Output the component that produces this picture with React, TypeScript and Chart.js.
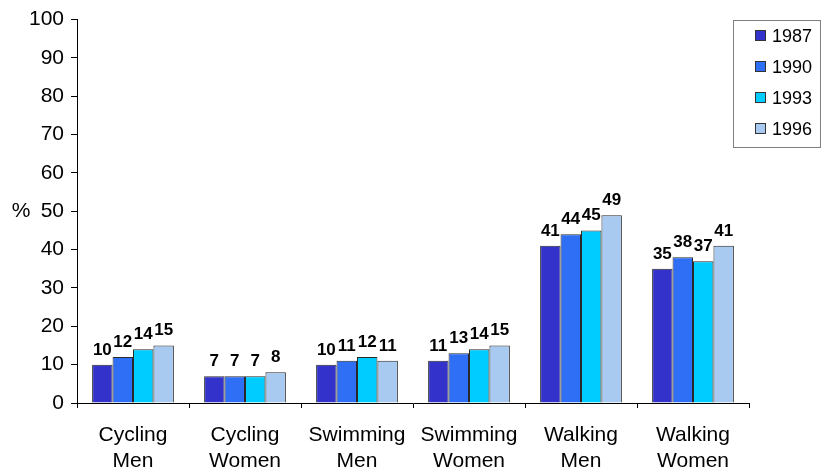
import React, { useEffect, useRef } from "react";
import { Chart, registerables } from "chart.js";

Chart.register(...registerables);

const categories: string[][] = [
  ["Cycling", "Men"],
  ["Cycling", "Women"],
  ["Swimming", "Men"],
  ["Swimming", "Women"],
  ["Walking", "Men"],
  ["Walking", "Women"],
];
const seriesNames = ["1987", "1990", "1993", "1996"];
const values1987 = [10, 7, 10, 11, 41, 35];
const values1990 = [12, 7, 11, 13, 44, 38];
const values1993 = [14, 7, 12, 14, 45, 37];
const values1996 = [15, 8, 11, 15, 49, 41];
const seriesColors = ["#3333CC", "#2F6FF6", "#00CCFF", "#A8CAF0"];
const yTicks = [0, 10, 20, 30, 40, 50, 60, 70, 80, 90, 100];
const yAxisTitle = "%";

const FONT = "'Liberation Sans', Arial, sans-serif";

const labelsPlugin = {
  id: "barLabels",
  afterDatasetsDraw(chart: any) {
    const ctx = chart.ctx;
    ctx.save();
    ctx.font = `bold 17px ${FONT}`;
    ctx.fillStyle = "#000";
    ctx.textAlign = "center";
    ctx.textBaseline = "alphabetic";
    chart.data.datasets.forEach((ds: any, i: number) => {
      const meta = chart.getDatasetMeta(i);
      meta.data.forEach((el: any, j: number) => {
        ctx.fillText(String(ds.data[j]), el.x, el.y - 10);
      });
    });
    ctx.restore();
  },
};

const extrasPlugin = {
  id: "extras",
  afterDraw(chart: any) {
    const ctx = chart.ctx;
    const y = chart.scales.y;
    ctx.save();
    ctx.font = `21px ${FONT}`;
    ctx.fillStyle = "#000";
    ctx.textAlign = "center";
    ctx.textBaseline = "middle";
    ctx.fillText(yAxisTitle, 21, y.getPixelForValue(50));

    // legend box
    const left = 733.5, top = 20.5, right = 820.5, bottom = 147.5;
    ctx.strokeStyle = "#808080";
    ctx.lineWidth = 1;
    ctx.fillStyle = "#fff";
    ctx.fillRect(left, top, right - left, bottom - top);
    ctx.strokeRect(left, top, right - left, bottom - top);
    ctx.font = `18px ${FONT}`;
    ctx.textAlign = "left";
    seriesNames.forEach((name, i) => {
      const cy = 36 + i * 31;
      ctx.fillStyle = seriesColors[i];
      ctx.fillRect(755.5, cy - 5.5, 10, 10);
      ctx.strokeStyle = "#333";
      ctx.strokeRect(755.5, cy - 5.5, 10, 10);
      ctx.fillStyle = "#000";
      ctx.textBaseline = "middle";
      ctx.fillText(name, 772, cy + 1);
    });
    ctx.restore();
  },
};

export default function App() {
  const ref = useRef<HTMLCanvasElement | null>(null);
  useEffect(() => {
    if (!ref.current) return;
    const allSeries = [values1987, values1990, values1993, values1996];
    const chart = new Chart(ref.current, {
      type: "bar",
      data: {
        labels: categories,
        datasets: allSeries.map((d, i) => ({
          label: seriesNames[i],
          data: d,
          backgroundColor: seriesColors[i],
          borderColor: "#2a2a2a",
          borderWidth: 1,
          categoryPercentage: 0.73,
          barPercentage: 1,
        })),
      },
      options: {
        animation: false,
        responsive: false,
        layout: { padding: { top: 19, right: 74, bottom: 0, left: 0 } },
        plugins: { legend: { display: false }, tooltip: { enabled: false } },
        scales: {
          x: {
            grid: {
              drawOnChartArea: false,
              drawTicks: true,
              tickLength: 5,
              color: "#000",
              offset: true,
            },
            border: { color: "#000", width: 1 },
            ticks: {
              color: "#000",
              font: { family: FONT, size: 21, lineHeight: 1.24 },
              padding: 14,
              maxRotation: 0,
              autoSkip: false,
            },
            afterFit(scale: any) {
              scale.height = 65;
            },
          },
          y: {
            min: 0,
            max: 100,
            afterBuildTicks(scale: any) {
              scale.ticks = yTicks.map((v) => ({ value: v }));
            },
            grid: {
              drawOnChartArea: false,
              drawTicks: true,
              tickLength: 6,
              color: "#000",
            },
            border: { color: "#000", width: 1 },
            ticks: {
              color: "#000",
              font: { family: FONT, size: 21 },
              padding: 7,
            },
            afterFit(scale: any) {
              scale.width = 77;
            },
          },
        },
      },
      plugins: [labelsPlugin, extrasPlugin],
    });
    return () => chart.destroy();
  }, []);
  return (
    <div style={{ position: "fixed", left: 0, top: 0, width: 823, height: 468, background: "#fff" }}>
      <canvas ref={ref} width={823} height={468} style={{ display: "block" }} />
    </div>
  );
}
